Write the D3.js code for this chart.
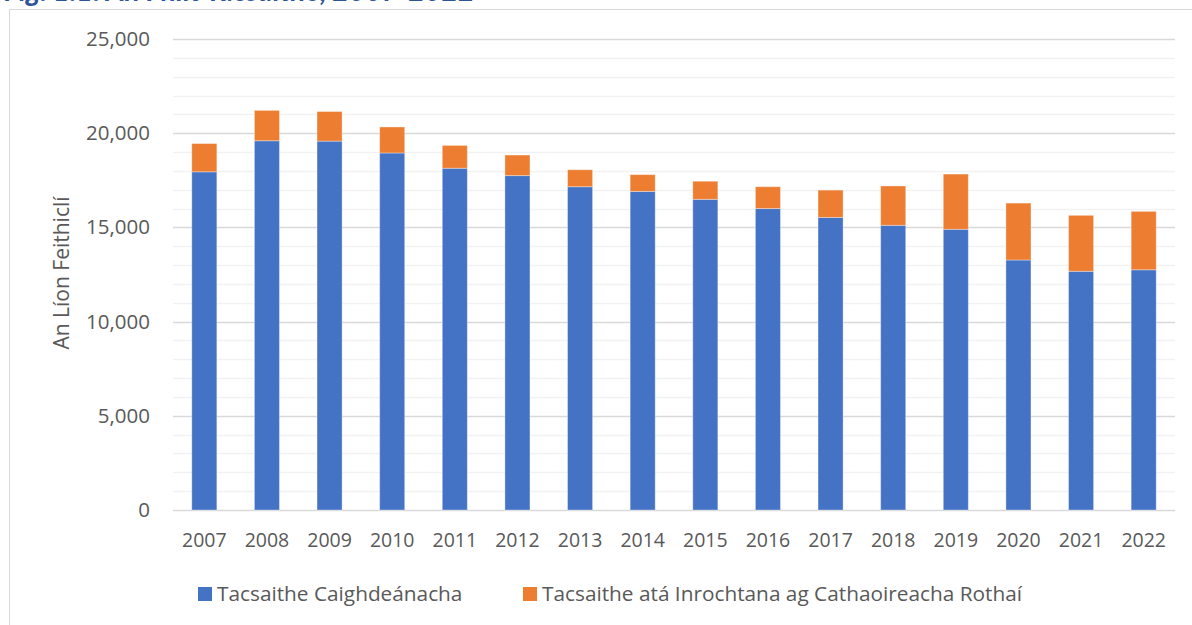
<!DOCTYPE html>
<html>
<head>
<meta charset="utf-8">
<script src="https://cdn.jsdelivr.net/npm/d3@7"></script>
<style>
  body { margin: 0; background: #fff; }
  text { font-family: "Open Sans", Lato, sans-serif; fill: #595959; }
</style>
</head>
<body>
<div id="chart"></div>
<script>
// Datos
var years = ["2007", "2008", "2009", "2010", "2011", "2012", "2013", "2014",
             "2015", "2016", "2017", "2018", "2019", "2020", "2021", "2022"];
var standardTaxis = [17950, 19600, 19580, 18950, 18140, 17750, 17160, 16910,
                     16490, 16000, 15530, 15110, 14900, 13270, 12670, 12750];
var wheelchairTaxis = [1500, 1610, 1570, 1380, 1210, 1090, 900, 890,
                       960, 1160, 1450, 2090, 2930, 3020, 2970, 3100];
var yTicks = [0, 5000, 10000, 15000, 20000, 25000];
var seriesNames = ["Tacsaithe Caighdeánacha", "Tacsaithe atá Inrochtana ag Cathaoireacha Rothaí"];
var colors = ["#4472C4", "#ED7D31"];

var width = 1192, height = 625;
var margin = { top: 39, right: 17, bottom: 115, left: 173 };
var plotW = width - margin.left - margin.right;
var plotH = height - margin.top - margin.bottom;

var svg = d3.select("#chart").append("svg")
    .attr("width", width)
    .attr("height", height);

// Título (cortado arriba, igual que en el original)
svg.append("text")
    .attr("x", 4)
    .attr("y", 1)
    .style("font-family", "Lato, sans-serif")
    .style("font-size", "28.5px")
    .style("font-weight", "bold")
    .style("font-style", "italic")
    .style("fill", "#2F5597")
    .text("Fig. 1.1: An Fhlít Tacsaithe, 2007-2022");

// Borde del área del gráfico
svg.append("rect")
    .attr("x", 9.5)
    .attr("y", 9.5)
    .attr("width", width + 20)
    .attr("height", height + 20)
    .attr("fill", "none")
    .attr("stroke", "#d9d9d9")
    .attr("stroke-width", 1);

var g = svg.append("g")
    .attr("transform", "translate(" + margin.left + "," + margin.top + ")");

var data = years.map(function(y, i) {
    return { year: y, s0: standardTaxis[i], s1: wheelchairTaxis[i] };
});

var xScale = d3.scaleBand()
    .domain(years)
    .range([0, plotW])
    .paddingInner(0.6)
    .paddingOuter(0.3);

var yScale = d3.scaleLinear()
    .domain([0, 25000])
    .range([plotH, 0]);

// Líneas de cuadrícula menores
g.append("g")
    .selectAll("line")
    .data(d3.range(1000, 25000, 1000).filter(function(v) { return v % 5000 !== 0; }))
    .enter().append("line")
    .attr("x1", 0).attr("x2", plotW)
    .attr("y1", function(d) { return Math.round(yScale(d)) + 0.5; })
    .attr("y2", function(d) { return Math.round(yScale(d)) + 0.5; })
    .attr("stroke", "#f2f2f2")
    .attr("stroke-width", 1.5);

// Líneas de cuadrícula principales
g.append("g")
    .selectAll("line")
    .data(yTicks)
    .enter().append("line")
    .attr("x1", 0).attr("x2", plotW)
    .attr("y1", function(d) { return Math.round(yScale(d)) + 0.5; })
    .attr("y2", function(d) { return Math.round(yScale(d)) + 0.5; })
    .attr("stroke", "#d9d9d9")
    .attr("stroke-width", 1.5);

// Barras apiladas
var stack = d3.stack().keys(["s0", "s1"]);
var layers = stack(data);

g.selectAll(".layer")
    .data(layers)
    .enter().append("g")
    .attr("class", "layer")
    .attr("fill", function(d, i) { return colors[i]; })
    .selectAll("rect")
    .data(function(d) { return d; })
    .enter().append("rect")
    .attr("x", function(d) { return xScale(d.data.year); })
    .attr("width", xScale.bandwidth())
    .attr("y", function(d) { return yScale(d[1]); })
    .attr("height", function(d) { return yScale(d[0]) - yScale(d[1]); })
    .attr("stroke", "rgba(255,255,255,0.35)")
    .attr("stroke-width", 1);

// Eje y
var yAxis = g.append("g")
    .call(d3.axisLeft(yScale).tickValues(yTicks).tickSize(0).tickPadding(23)
        .tickFormat(d3.format(",")));
yAxis.select(".domain").remove();
yAxis.selectAll("text").style("font-size", "20.5px").style("fill", "#595959")
    .style("font-family", "'Open Sans', Lato, sans-serif");

// Eje x
var xAxis = g.append("g")
    .attr("transform", "translate(0," + plotH + ")")
    .call(d3.axisBottom(xScale).tickSize(0).tickPadding(23));
xAxis.select(".domain").remove();
xAxis.selectAll("text").style("font-size", "19.5px").style("fill", "#595959")
    .style("font-family", "'Open Sans', Lato, sans-serif");

// Título del eje y
svg.append("text")
    .attr("transform", "translate(69," + 273 + ") rotate(-90)")
    .attr("text-anchor", "middle")
    .style("font-size", "21px")
    .text("An Líon Feithiclí");

// Leyenda
var legendX = [198, 523];
var legend = svg.append("g");
seriesNames.forEach(function(name, i) {
    legend.append("rect")
        .attr("x", legendX[i])
        .attr("y", 587)
        .attr("width", 14)
        .attr("height", 14)
        .attr("fill", colors[i]);
    legend.append("text")
        .attr("x", legendX[i] + 19)
        .attr("y", 601)
        .style("font-size", "20.8px")
        .text(name);
});
</script>
</body>
</html>
